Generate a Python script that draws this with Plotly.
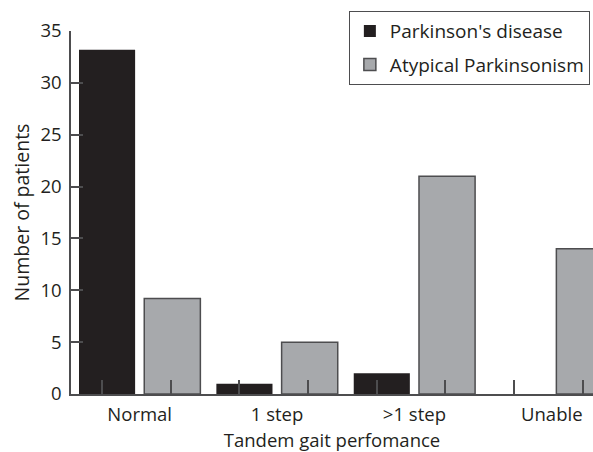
import plotly.graph_objects as go

categories = ["Normal", "1 step", ">1 step", "Unable"]
pd_values = [33.2, 1, 2, 0]
ap_values = [9.2, 5, 21, 14]
series_names = ["Parkinson's disease", "Atypical Parkinsonism"]
y_ticks = [0, 5, 10, 15, 20, 25, 30, 35]

FONT = "'Open Sans', Lato, sans-serif"
LINE = "#4d4d4f"
FS = 18.5

fig = go.Figure()
fig.add_trace(go.Bar(
    x=categories, y=pd_values, name=series_names[0],
    marker=dict(color="#231f20", line=dict(color="#231f20", width=0)),
    legendgroup="a",
))
fig.add_trace(go.Bar(
    x=categories, y=ap_values, name=series_names[1],
    marker=dict(color="#a7a9ac", line=dict(color=LINE, width=1.5)),
    legendgroup="b",
))
# invisible helper trace for the decorative tick axis
fig.add_trace(go.Scatter(x=[0], y=[0], xaxis="x2", mode="markers",
                         marker=dict(opacity=0), showlegend=False,
                         hoverinfo="skip"))

xr = [-0.5, 3.3]
fig.update_layout(
    width=593, height=452,
    margin=dict(l=71, r=0, t=31, b=58),
    paper_bgcolor="white", plot_bgcolor="white",
    barmode="group", bargap=0.05, bargroupgap=0.14,
    font=dict(family=FONT, size=FS, color="#231f20"),
    showlegend=True,
    legend=dict(
        x=0.994, y=1.055, xanchor="right", yanchor="top",
        bordercolor=LINE, borderwidth=1, bgcolor="white",
        font=dict(size=FS + 0.5), tracegroupgap=6,
        itemwidth=30,
    ),
    xaxis=dict(
        type="category", range=xr, showline=True, linecolor=LINE,
        linewidth=1.5, ticks="", showgrid=False, zeroline=False,
        tickfont=dict(size=FS), ticklabelstandoff=3, automargin=False,
        title=dict(text="Tandem gait perfomance", font=dict(size=FS), standoff=17),
    ),
    xaxis2=dict(
        type="linear", overlaying="x", range=xr, showline=False,
        showgrid=False, zeroline=False, showticklabels=False,
        tickmode="array",
        tickvals=[-0.275, 0.225, 0.725, 1.225, 1.725, 2.225, 2.725, 3.225],
        ticks="inside", ticklen=14, tickwidth=1.5, tickcolor=LINE,
        anchor="y", side="bottom",
    ),
    yaxis=dict(
        range=[0, 35], tickmode="array", tickvals=y_ticks,
        showline=True, linecolor=LINE, linewidth=1.5,
        ticks="inside", ticklen=12, tickwidth=1.5, tickcolor=LINE,
        showgrid=False, zeroline=False, tickfont=dict(size=FS),
        ticklabelstandoff=4,
        title=dict(text="Number of patients", font=dict(size=19.5), standoff=6),
    ),
)

fig.write_html(
    "out.html",
    config={"displayModeBar": False},
    post_script="document.body.style.margin='0';document.body.style.overflow='hidden';",
)
